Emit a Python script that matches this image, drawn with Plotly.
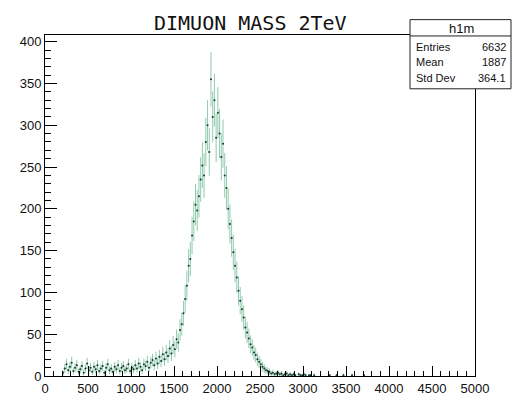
import numpy as np
import plotly.graph_objects as go

# Histogram h1m: 250 bins of width 20 over [0, 5000] (weighted entries)
bin_width = 20
x_min = 0
entry_weight = 3.0
counts = [
    0, 0, 0, 0, 0, 0, 0, 0, 0, 0,                      # 0-200
    4, 9, 14, 7, 11, 16, 6, 10, 13, 5,                 # 200-400
    8, 12, 4, 9, 15, 7, 10, 5, 11, 8,                  # 400-600
    13, 6, 9, 12, 4, 10, 14, 7, 9, 5,                  # 600-800
    11, 8, 13, 6, 10, 12, 7, 9, 14, 6,                 # 800-1000
    10, 8, 13, 9, 15, 11, 7, 14, 12, 17,               # 1000-1200
    10, 16, 19, 13, 21, 15, 23, 18, 26, 20,            # 1200-1400
    28, 24, 33, 27, 37, 32, 44, 40, 55, 62,            # 1400-1600
    75, 92, 108, 132, 140, 168, 185, 205, 198, 215,    # 1600-1800
    235, 252, 240, 280, 300, 268, 355, 310, 330, 285,  # 1800-2000
    315, 290, 262, 278, 240, 225, 200, 182, 165, 148,  # 2000-2200
    132, 118, 102, 90, 80, 70, 58, 52, 45, 38,         # 2200-2400
    34, 28, 25, 20, 17, 14, 11, 9, 7, 6,               # 2400-2600
    5, 3, 4, 2, 3, 4, 2, 3, 1, 2,                      # 2600-2800
    3, 1, 2, 1, 2, 1, 0, 2, 1, 1,                      # 2800-3000
    2, 1, 0, 1, 1, 0, 1, 0, 0, 0,                      # 3000-3200
    0, 0, 0, 0, 0, 1, 0, 0, 0, 1,                      # 3200-3400
    0, 0, 0, 1, 0, 0, 0, 0, 1, 0,                      # 3400-3600
    0, 0, 0, 0, 0, 1, 0, 0, 0, 0,                      # 3600-3800
] + [0] * 60

title_text = "DIMUON MASS 2TeV"
stats_name = "h1m"
stats_rows = [("Entries", "6632"), ("Mean", "1887"), ("Std Dev", "364.1")]

counts = np.array(counts, dtype=float)
centers = x_min + bin_width * (np.arange(len(counts)) + 0.5)
mask = counts > 0
xs = centers[mask]
ys = counts[mask]
errs = np.sqrt(entry_weight * ys)

err_color = "rgba(85,175,130,0.65)"
fig = go.Figure()
fig.add_trace(go.Scatter(
    x=xs, y=ys, mode="markers",
    marker=dict(size=2, color="#1f3b2e"),
    error_y=dict(type="data", array=errs, visible=True, color=err_color, thickness=1, width=0),
    error_x=dict(type="constant", value=bin_width / 2, visible=True, color=err_color, thickness=1, width=0),
    showlegend=False, hoverinfo="x+y",
))

L, R, T, B = 45, 44, 35, 18
W, H = 519, 408
pw, ph = W - L - R, H - T - B


def px(xp):
    return (xp - L) / pw


def py(yp):
    return (H - B - yp) / ph


fig.update_layout(
    width=W, height=H,
    margin=dict(l=L, r=R, t=T, b=B, pad=0),
    paper_bgcolor="white", plot_bgcolor="white",
    font=dict(family="Liberation Sans, Arial, sans-serif", size=13, color="#111"),
    xaxis=dict(
        range=[0, 5000], showgrid=False, zeroline=False,
        showline=True, linecolor="black", linewidth=1, mirror=True,
        ticks="inside", ticklen=10, tickcolor="black", tickwidth=1,
        tick0=0, dtick=500,
        minor=dict(ticks="inside", ticklen=5, dtick=100, tickcolor="black", showgrid=False),
        tickfont=dict(size=13),
    ),
    yaxis=dict(
        range=[0, 408], showgrid=False, zeroline=False,
        showline=True, linecolor="black", linewidth=1, mirror=True,
        ticks="inside", ticklen=12, tickcolor="black", tickwidth=1,
        tick0=0, dtick=50,
        minor=dict(ticks="inside", ticklen=6, dtick=10, tickcolor="black", showgrid=False),
        tickfont=dict(size=13),
    ),
)

# Title
fig.add_annotation(
    x=px(250), y=py(22), xref="paper", yref="paper",
    text=title_text, showarrow=False, xanchor="center", yanchor="middle",
    font=dict(family="DejaVu Sans Mono, monospace", size=20, color="#111"),
)

# Stats box
bx0, bx1, by0, by1 = px(410), px(511), py(91), py(19)
fig.add_shape(type="rect", xref="paper", yref="paper",
              x0=bx0, x1=bx1, y0=by0, y1=by1,
              line=dict(color="#222", width=1), fillcolor="white", layer="above")
fig.add_shape(type="line", xref="paper", yref="paper",
              x0=bx0, x1=bx1, y0=py(36), y1=py(36),
              line=dict(color="#222", width=1), layer="above")
fig.add_annotation(x=px(461), y=py(28), xref="paper", yref="paper",
                   text=stats_name, showarrow=False, xanchor="center", yanchor="middle",
                   font=dict(size=13, color="#111"))
row_y = [47, 63, 80]
for (lab, val), yy in zip(stats_rows, row_y):
    fig.add_annotation(x=px(414), y=py(yy), xref="paper", yref="paper",
                       text=lab, showarrow=False, xanchor="left", yanchor="middle",
                       font=dict(size=11, color="#111"))
    fig.add_annotation(x=px(508), y=py(yy), xref="paper", yref="paper",
                       text=val, showarrow=False, xanchor="right", yanchor="middle",
                       font=dict(size=11, color="#111"))

fig.write_html("out.html")
